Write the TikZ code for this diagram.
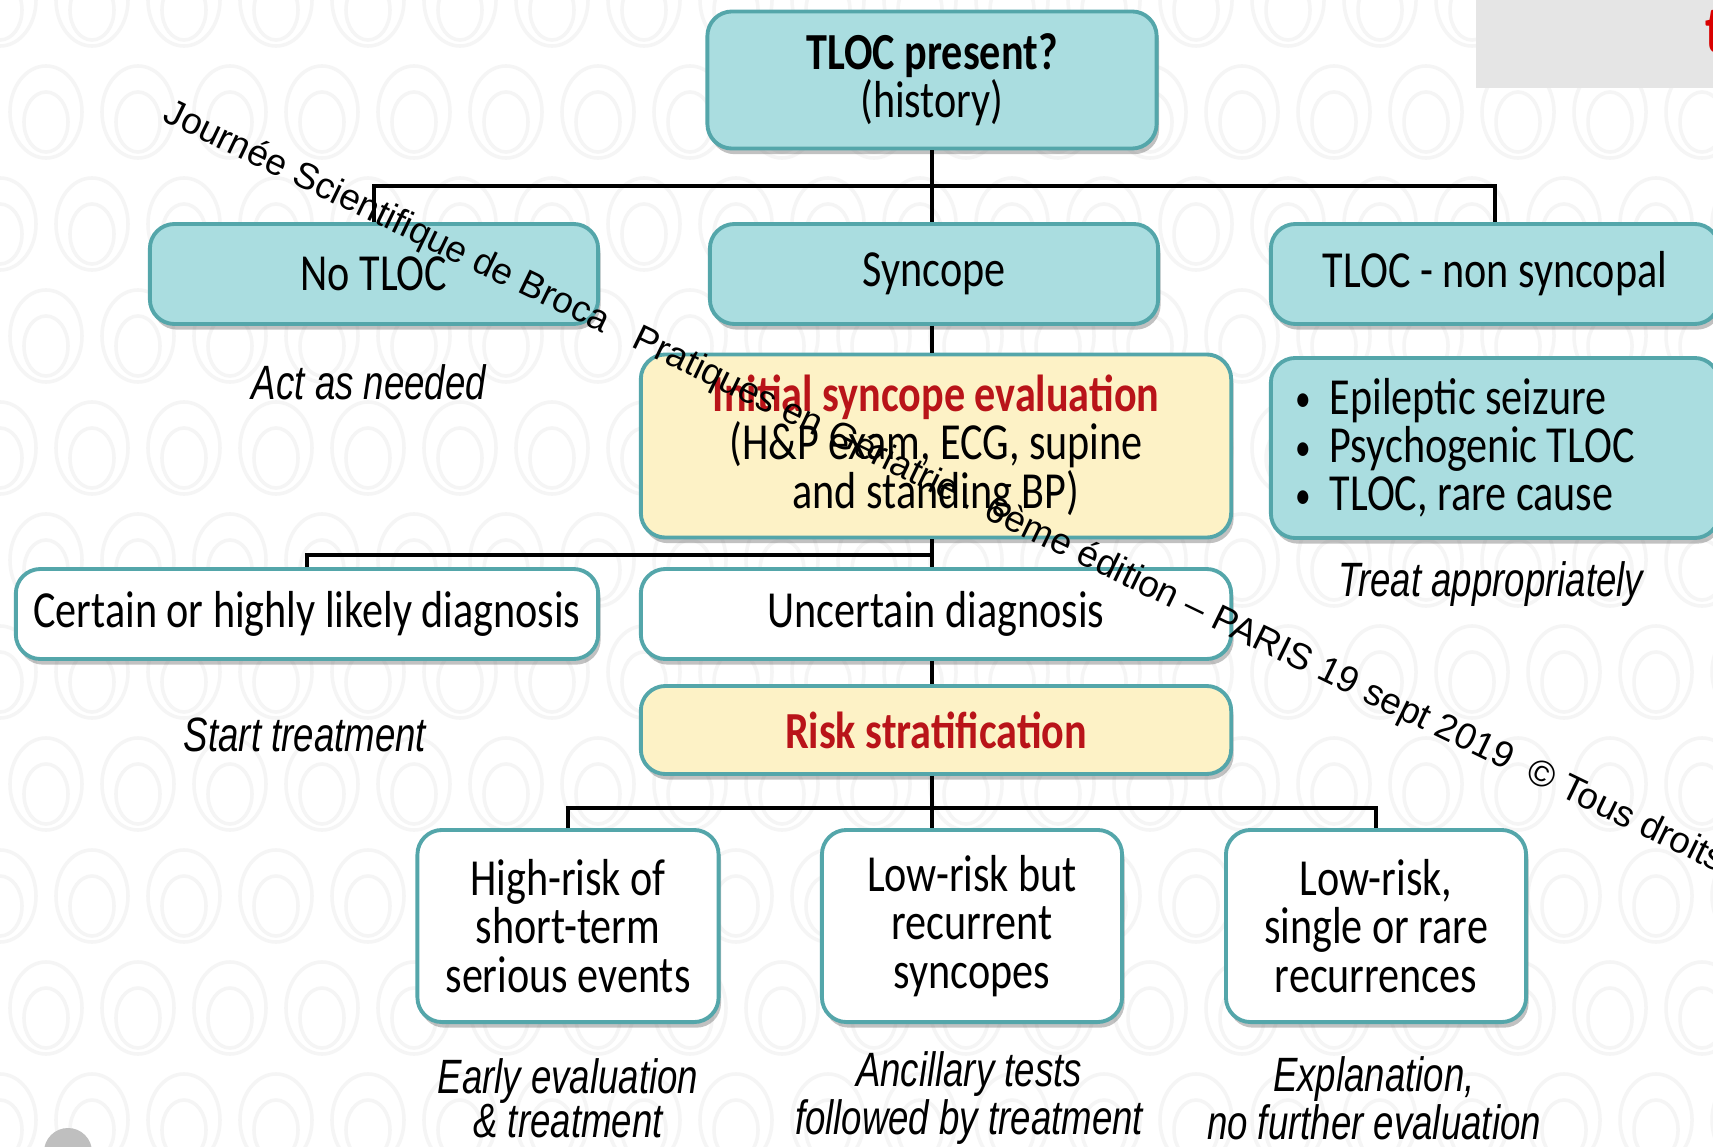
\documentclass[tikz,border=0pt]{standalone}
\usepackage{fontspec}
\setmainfont{Carlito}
\newfontfamily\boxfont{Carlito}[FakeStretch=0.81]
\newfontfamily\notefont{Liberation Sans}[FakeStretch=0.76]
\newfontfamily\markfont{Liberation Sans}
\usepackage{xcolor}
\usetikzlibrary{shapes,shadows,positioning}

\definecolor{tealfill}{RGB}{170,221,224}
\definecolor{tealline}{RGB}{84,166,170}
\definecolor{creamfill}{RGB}{253,242,198}
\definecolor{evalred}{RGB}{185,20,25}
\definecolor{swirlgray}{RGB}{245,245,245}

\newcommand{\bul}{\makebox[0.65em][l]{\raisebox{0.05em}{\fontsize{11}{11}\selectfont•}}}

\begin{document}
\begin{tikzpicture}[x=0.01cm, y=-0.01cm,
		box/.style={draw=tealline, line width=1.1pt, rounded corners=7pt, align=center, inner sep=0pt,
			font=\boxfont\fontsize{14.8}{13.7}\selectfont,
			drop shadow={shadow xshift=0.7pt, shadow yshift=-1.6pt, opacity=0.4, fill=black!60}},
		tealbox/.style={box, fill=tealfill},
		whitebox/.style={box, fill=white},
		creambox/.style={box, fill=creamfill},
		note/.style={align=center, font=\notefont\itshape\fontsize{13.7}{12.5}\selectfont},
		link/.style={line width=0.9pt}]
		\useasboundingbox (0,0) rectangle (1713,1146);
		\clip (0,0) rectangle (1713,1146);
		\fill[white] (0,0) rectangle (1713,1146);
		% faint swirls of the slide background
		\foreach \r in {0,...,10}
			\foreach \c in {0,...,19}
				\draw[swirlgray, line width=1pt] ({\c*92+mod(\r,2)*46},{\r*112}) ellipse (0.36cm and 0.46cm)
					({\c*92+mod(\r,2)*46},{\r*112+10}) ellipse (0.22cm and 0.3cm);
		\fill[black!10] (1476,0) rectangle (1713,88);
		\node[font=\boxfont\bfseries\fontsize{19}{19}\selectfont, text=red!85!black, anchor=base west, inner sep=0pt] (corner) at (1705,53) {t};
		\fill[black!25] (68,1152) circle (0.24cm);

		% boxes
		\node[tealbox, minimum width=4.49cm, minimum height=1.37cm] (tloc) at (932,80) {\textbf{TLOC present?}\\(history)};
		\node[tealbox, minimum width=4.48cm, minimum height=1cm] (notloc) at (374,274) {No TLOC};
		\node[tealbox, minimum width=4.48cm, minimum height=1cm] (syncope) at (934,274) {Syncope};
		\node[tealbox, minimum width=4.48cm, minimum height=1cm] (nonsync) at (1495,274) {TLOC - non syncopal};
		\node[creambox, minimum width=5.9cm, minimum height=1.83cm] (initeval) at (936,446) {\textcolor{evalred}{\textbf{Initial syncope evaluation}}\\(H\&P exam, ECG, supine\\and standing BP)};
		\node[tealbox, minimum width=4.48cm, minimum height=1.8cm, text width=3.98cm, align=flush left] (causes) at (1495,448) {\bul Epileptic seizure\\\bul Psychogenic TLOC\\\bul TLOC, rare cause};
		\node[whitebox, minimum width=5.82cm, minimum height=0.9cm] (certain) at (307,614) {Certain or highly likely diagnosis};
		\node[whitebox, minimum width=5.9cm, minimum height=0.9cm] (uncertain) at (936,614) {Uncertain diagnosis};
		\node[creambox, minimum width=5.9cm, minimum height=0.88cm] (risk) at (936,730) {\textcolor{evalred}{\textbf{Risk stratification}}};
		\node[whitebox, minimum width=3.01cm, minimum height=1.92cm] (highrisk) at (568,926) {High-risk of\\short-term\\serious events};
		\node[whitebox, minimum width=3cm, minimum height=1.92cm] (lowrecur) at (972,926) {Low-risk but\\recurrent\\syncopes};
		\node[whitebox, minimum width=3cm, minimum height=1.92cm] (lowrare) at (1376,926) {Low-risk,\\single or rare\\recurrences};

		% what to do
		\node[note] (actneeded) at (369,382) {Act as needed};
		\node[note] (treatapp) at (1491,584) {Treat appropriately};
		\node[note] (starttreat) at (305,735) {Start treatment};
		\node[note] (earlyeval) at (568,1098) {Early evaluation\\\& treatment};
		\node[note] (ancillary) at (969,1098) {Ancillary tests\\followed by treatment};
		\node[note] (explain) at (1374,1098) {Explanation,\\no further evaluation};

		% tree lines
		\coordinate (fork1) at (932,186);
		\coordinate (fork2) at (932,555);
		\coordinate (fork3) at (932,808);
		\draw[link] (tloc.south -| fork1) -- (fork1 |- syncope.north);
		\draw[link] (notloc.north) |- (fork1) -| (nonsync.north);
		\draw[link] (syncope.south -| fork1) -- (fork1 |- initeval.north);
		\draw[link] (initeval.south -| fork2) -- (fork2 |- uncertain.north);
		\draw[link] (fork2) -| (certain.north);
		\draw[link] (uncertain.south -| fork2) -- (fork2 |- risk.north);
		\draw[link] (risk.south -| fork3) -- (fork3 |- lowrecur.north);
		\draw[link] (highrisk.north) |- (fork3) -| (lowrare.north);

		\node[font=\markfont\fontsize{10.45}{12}\selectfont, rotate=-25.8, anchor=base west, inner sep=0pt] (mark) at (161,120) {Journée Scientifique de Broca\ \ \ Pratiques en Gériatrie . 6ème édition – PARIS 19 sept 2019\ \ © Tous droits};
	\end{tikzpicture}
\end{document}
